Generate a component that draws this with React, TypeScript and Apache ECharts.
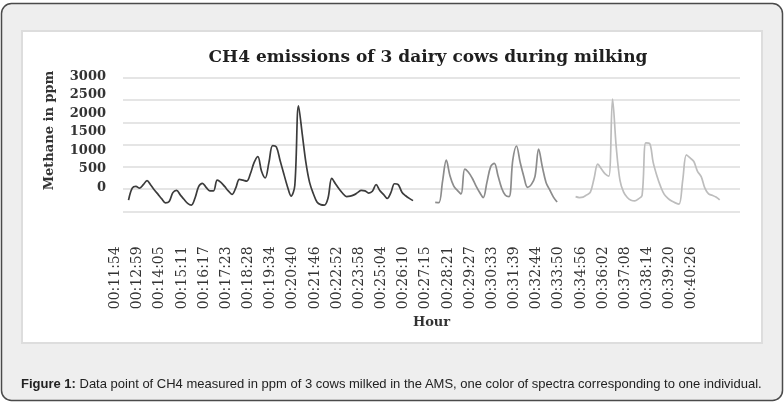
import React, { useEffect, useRef } from "react";
import * as echarts from "echarts";

const tickLabels = [
  "00:11:54", "00:12:59", "00:14:05", "00:15:11", "00:16:17", "00:17:23", "00:18:28",
  "00:19:34", "00:20:40", "00:21:46", "00:22:52", "00:23:58", "00:25:04", "00:26:10",
  "00:27:15", "00:28:21", "00:29:27", "00:30:33", "00:31:39", "00:32:44", "00:33:50",
  "00:34:56", "00:36:02", "00:37:08", "00:38:14", "00:39:20", "00:40:26",
];
const slotsPerLabel = 6;
const slotCount = 167;
const categories = Array.from({ length: slotCount }, (_, i) => String(i));

const cow1Start = 1;
const cow1 = [
  250, 520, 560, 520, 600, 690, 590, 480, 380, 280, 190, 220, 420, 470, 370, 270, 180, 140,
  300, 560, 630, 540, 460, 460, 700, 650, 560, 460, 380, 520, 720, 700, 680, 850, 1100, 1230,
  900, 750, 1100, 1480, 1450, 1150, 850, 560, 340, 580, 2375, 1750, 1100, 650, 400, 210, 150,
  140, 300, 740, 620, 500, 400, 330, 340, 370, 420, 470, 460, 410, 450, 600, 470, 380, 290,
  420, 620, 600, 430, 350, 290, 240,
];
const cow2Start = 84;
const cow2 = [
  200, 195, 680, 1150, 800, 570, 470, 390, 950, 880, 750, 580, 430, 310, 650, 1000, 1080, 800,
  520, 360, 330, 1150, 1470, 1100, 780, 540, 600, 780, 1400, 1000, 650, 480, 320, 210,
];
const cow3Start = 122;
const cow3 = [
  330, 310, 320, 370, 430, 740, 1060, 950, 840, 790, 2526, 1450, 700, 430, 310, 250, 235, 280,
  360, 1540, 1530, 1100, 800, 560, 380, 290, 230, 190, 160, 700, 1270, 1200, 1120, 900, 780,
  520, 390, 360, 320, 255,
];

const titleText = "CH4 emissions of 3 dairy cows during milking";
const yAxisName = "Methane in ppm";
const xAxisName = "Hour";
const captionBold = "Figure 1:";
const captionRest =
  " Data point of CH4 measured in ppm of 3 cows milked in the AMS, one color of spectra corresponding to one individual.";

function place(start: number, values: number[]) {
  const arr: (number | null)[] = new Array(slotCount).fill(null);
  values.forEach((v, i) => {
    arr[start + i] = v;
  });
  return arr;
}

const SERIF = "'DejaVu Serif', serif";
const SANS = "'Liberation Sans', Arial, sans-serif";

export default function App() {
  const ref = useRef<HTMLDivElement>(null);
  useEffect(() => {
    if (!ref.current) return;
    const chart = echarts.init(ref.current, null, { renderer: "svg" });
    const lineSeries = (name: string, data: (number | null)[], color: string) => ({
      name,
      type: "line",
      xAxisIndex: 0,
      yAxisIndex: 0,
      data,
      smooth: 0.35,
      symbol: "none",
      connectNulls: false,
      lineStyle: { color, width: 1.7 },
      z: 5,
    });
    chart.setOption({
      animation: false,
      backgroundColor: "transparent",
      graphic: [
        {
          type: "rect",
          z: -20,
          shape: { x: 1.5, y: 3.5, width: 781, height: 397, r: 10 },
          style: { fill: "#eeeeee", stroke: "#4a4a4a", lineWidth: 1.5 },
        },
        {
          type: "rect",
          z: -19,
          shape: { x: 22, y: 31, width: 740, height: 312 },
          style: { fill: "#ffffff", stroke: "#dddddd", lineWidth: 2 },
        },
        {
          type: "text",
          z: 10,
          x: 428,
          y: 56,
          style: {
            text: titleText,
            font: `bold 17px ${SERIF}`,
            fill: "#1f1f1f",
            textAlign: "center",
            textVerticalAlign: "middle",
          },
        },
        {
          type: "text",
          z: 10,
          x: 21,
          y: 383,
          style: {
            text: `{b|${captionBold}}{r|${captionRest}}`,
            textVerticalAlign: "middle",
            rich: {
              b: { fontFamily: SANS, fontSize: 13, fontWeight: "bold", fill: "#222", color: "#222" },
              r: { fontFamily: SANS, fontSize: 13, fill: "#222", color: "#222" },
            },
          },
        },
      ],
      grid: [
        { left: 123, right: 44, top: 78, height: 133.3 },
        { left: 123, right: 44, top: 75, height: 111 },
      ],
      xAxis: [
        {
          type: "category",
          gridIndex: 0,
          data: categories,
          boundaryGap: true,
          axisLine: { show: false },
          axisTick: { show: false },
          axisLabel: {
            interval: slotsPerLabel - 1,
            showMinLabel: true,
            rotate: 90,
            margin: 35,
            verticalAlign: "bottom",
            lineHeight: 21.6,
            fontFamily: SERIF,
            fontSize: 14,
            color: "#333",
            formatter: (_v: string, idx: number) =>
              idx % slotsPerLabel === 0 ? tickLabels[idx / slotsPerLabel] ?? "" : "",
          },
          name: xAxisName,
          nameLocation: "middle",
          nameGap: 104,
          nameTextStyle: { fontFamily: SERIF, fontWeight: "bold", fontSize: 13, color: "#333" },
        },
        { type: "value", gridIndex: 1, show: false },
      ],
      yAxis: [
        {
          type: "value",
          gridIndex: 0,
          min: 0,
          max: 3000,
          interval: 500,
          axisLabel: { show: false },
          axisLine: { show: false },
          axisTick: { show: false },
          splitLine: { show: true, lineStyle: { color: "#dcdcdc", width: 1.5 } },
        },
        {
          type: "value",
          gridIndex: 1,
          min: 0,
          max: 3000,
          interval: 500,
          axisLine: { show: false },
          axisTick: { show: false },
          splitLine: { show: false },
          axisLabel: {
            margin: 17,
            fontFamily: SERIF,
            fontWeight: "bold",
            fontSize: 13,
            color: "#333",
            formatter: (v: number) => String(v),
          },
          name: yAxisName,
          nameLocation: "middle",
          nameRotate: 90,
          nameGap: 68,
          nameTextStyle: { fontFamily: SERIF, fontWeight: "bold", fontSize: 13, color: "#333" },
        },
      ],
      series: [
        lineSeries("Cow 1", place(cow1Start, cow1), "#3c3c3c"),
        lineSeries("Cow 2", place(cow2Start, cow2), "#8c8c8c"),
        lineSeries("Cow 3", place(cow3Start, cow3), "#bdbdbd"),
      ],
    });
    return () => chart.dispose();
  }, []);
  return (
    <div
      ref={ref}
      style={{ position: "fixed", left: 0, top: 0, width: 784, height: 403 }}
    />
  );
}
